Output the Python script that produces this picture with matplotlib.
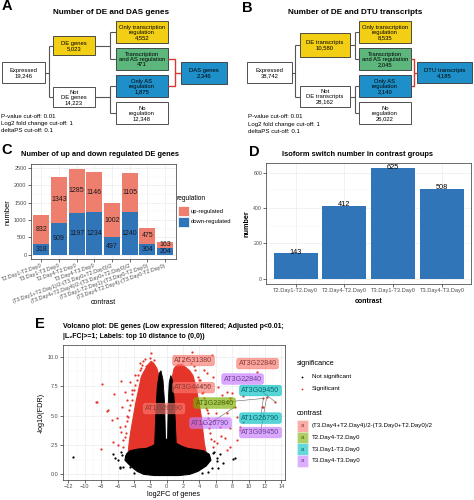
import numpy as np
import matplotlib
matplotlib.use("Agg")
import matplotlib.pyplot as plt
from matplotlib.patches import Rectangle
from matplotlib.ticker import MultipleLocator

plt.rcParams["font.family"] = ["Liberation Sans", "DejaVu Sans"]

W, H = 474, 500

# ---------------- data ----------------
# Panel A / B decision trees
a_labels = ["Expressed", "DE genes", "Not\nDE genes", "Only transcription\nregulation",
            "Transcription\nand AS regulation", "Only AS\nregulation", "No\nregulation", "DAS genes"]
a_counts = [19246, 5023, 14223, 4552, 471, 1875, 12348, 2346]
b_labels = ["Expressed", "DE transcripts", "Not\nDE transcripts", "Only transcription\nregulation",
            "Transcription\nand AS regulation", "Only AS\nregulation", "No\nregulation", "DTU transcripts"]
b_counts = [38742, 10580, 28162, 8535, 2045, 2140, 26022, 4185]
cutoffs = ["P-value cut-off: 0.01", "Log2 fold change cut-off: 1", "deltaPS cut-off: 0.1"]

# Panel C
c_contrasts = ["T2.Day1-T2.Day0", "T3.Day1-T3.Day0", "T2.Day4-T2.Day0", "T3.Day4-T3.Day0",
               "(T3.Day1+T2.Day1)/2-(T3.Day0+T2.Day0)/2", "(T3.Day4+T2.Day4)/2-(T3.Day0+T2.Day0)/2",
               "(T3.Day1-T2.Day1)-(T3.Day0-T2.Day0)", "(T3.Day4-T2.Day4)-(T3.Day0-T2.Day0)"]
c_up = [832, 1343, 1285, 1146, 1002, 1105, 475, 163]
c_down = [318, 909, 1197, 1234, 497, 1240, 304, 204]

# Panel D
d_contrasts = ["T2.Day1-T2.Day0", "T2.Day4-T2.Day0", "T3.Day1-T3.Day0", "T3.Day4-T3.Day0"]
d_switch = [143, 412, 625, 508]

# Panel E: dense point clouds as outlines, sparse points listed
e_red_left_x = [-0.5, -0.55, -0.8, -1.2, -1.6, -1.9, -2.3, -2.8, -3.1, -3.4, -3.8, -4.1, -4.4, -4.6, -4.7]
e_red_left_y = [2.0, 5.0, 8.0, 9.0, 9.45, 9.6, 9.3, 8.7, 8.3, 7.3, 6.0, 4.8, 3.6, 2.6, 1.9]
e_red_right_x = [0.35, 0.4, 0.6, 0.9, 1.3, 1.8, 2.3, 2.8, 3.2, 3.6, 3.9, 4.2, 4.4, 4.6, 4.8]
e_red_right_y = [2.0, 5.0, 8.0, 9.0, 9.3, 9.35, 9.1, 8.8, 8.4, 7.4, 6.2, 5.0, 3.8, 2.6, 1.9]
e_black_spike_x = [-1.5, -1.35, -1.15, -0.9, -0.7, -0.45, -0.25, -0.15, 0.1, 0.18, 0.3, 0.5, 0.7, 0.9, 1.05, 1.2]
e_black_spike_y = [2.0, 5.0, 7.5, 8.6, 8.8, 8.0, 6.0, 3.0, 3.0, 6.0, 7.8, 8.4, 8.0, 6.5, 4.5, 2.0]
e_black_blob_x = [-5.0, -4.5, -3.5, -2.5, -1.8, -1.0, 0.0, 1.0, 1.8, 2.6, 3.6, 4.5, 5.2, 5.4, 4.8, 3.8,
                  2.8, 1.5, -1.5, -2.8, -3.6, -4.4, -5.1]
e_black_blob_y = [1.6, 2.0, 2.15, 2.2, 2.4, 2.7, 2.8, 2.7, 2.4, 2.2, 2.1, 2.0, 1.7, 1.2, 0.7, 0.25,
                  0.0, -0.1, -0.1, 0.0, 0.25, 0.7, 1.2]
e_red_pts_x = [-1.95, -3.27, -2.53, -7.87, -5.63, -4.48, -6.44, -8.64, -7.34, -6.66, -5.51, -5.1, -4.9,
               -5.72, -6.53, -8.07, -5.1, -6.12, -4.27, -3.87, -4.68, -5.29, -7.2, -8.54,
               -3.3, -3.6, -4.0, -4.3, -4.6, -4.9, -5.0, -5.3, -3.0, -2.6, -5.6, -6.0,
               -3.5, -3.9, -4.2, -4.5, -4.8, -5.1, -3.2, -2.9, -2.1, -1.5,
               3.05, 5.49, 10.99, 4.88, 5.69, 4.07, 6.3, 7.32, 7.94, 6.71, 7.73, 11.8, 13.23, 11.8,
               8.34, 4.88, 7.32, 8.55, 5.9, 9.37, 6.51, 7.73, 8.95, 5.29, 7.12, 6.1, 7.73, 8.55,
               7.32, 4.27, 4.47, 9.59, 12.2, 11.6, 9.35, 8.95,
               3.3, 3.8, 4.2, 4.5, 4.8, 5.1, 5.2, 5.4, 5.6, 2.5, 6.0, 6.6, 5.0, 4.6,
               3.5, 4.0, 4.4, 4.7, 5.0, 5.3, 3.0, 2.0, 1.4, 5.8]
e_red_pts_y = [10.33, 9.43, 9.2, 7.67, 7.95, 7.87, 6.82, 6.12, 5.4, 4.61, 5.74, 7.02, 6.31,
               4.04, 2.77, 2.12, 3.19, 4.76, 7.16, 8.44, 4.89, 2.35, 5.5, 6.17,
               8.9, 8.0, 7.2, 6.3, 5.5, 4.5, 3.5, 2.9, 9.3, 9.8, 3.6, 2.5,
               8.4, 7.6, 6.8, 5.9, 5.0, 4.1, 9.0, 9.6, 9.9, 9.7,
               10.42, 10.14, 8.72, 8.58, 8.3, 8.01, 7.44, 7.02, 6.88, 6.74, 6.45, 6.45, 6.17, 5.74,
               5.74, 5.46, 5.18, 4.89, 4.61, 4.47, 4.04, 3.91, 3.76, 3.48, 3.06, 2.63, 2.35, 2.91,
               2.06, 6.88, 4.33, 8.01, 6.54, 5.74, 6.65, 4.04,
               9.2, 8.3, 7.5, 6.5, 5.6, 4.8, 3.9, 3.0, 2.3, 9.9, 5.2, 3.3, 7.6, 8.9,
               8.9, 8.0, 7.0, 6.0, 5.2, 4.3, 9.5, 9.6, 9.6, 2.8]
e_black_pts_x = [-11.4, -5.72, -6.33, -5.51, -4.48, -4.9, -6.52, -5.7, -5.6, -5.9, -5.3, -4.0,
                 8.34, 6.92, 6.3, 5.69, 5.08, 8.13, 6.1, 5.8, 6.1, 5.5, 4.3, 6.5]
e_black_pts_y = [1.5, 0.54, 1.36, 1.64, 0.65, 1.78, 1.72, 0.65, 1.9, 1.2, 0.6, 0.1,
                 1.36, 0.93, 0.51, 1.78, 0.22, 1.27, 1.36, 1.9, 1.1, 0.5, 0.1, 1.7]

e_contrasts = ["(T3.Day4+T2.Day4)/2-(T3.Day0+T2.Day0)/2", "T2.Day4-T2.Day0",
               "T3.Day1-T3.Day0", "T3.Day4-T3.Day0"]
e_genes = ["AT2G31380", "AT3G22840", "AT3G22840", "AT3G44450", "AT3G09450",
           "AT3G22840", "AT1G26790", "AT1G26790", "AT1G26790", "AT3G09450"]
e_gene_contrast = [0, 0, 3, 0, 2, 1, 0, 2, 3, 3]
e_label_x = [3.27, 11.09, 9.26, 3.27, 11.45, 5.84, -0.33, 11.45, 5.35, 11.45]
e_label_y = [9.67, 9.41, 8.1, 7.37, 7.12, 6.06, 5.59, 4.78, 4.36, 3.55]
e_point_x = [np.nan, np.nan, np.nan, np.nan, 13.23, 11.8, np.nan, 11.8, 8.34, 12.2]
e_point_y = [np.nan, np.nan, np.nan, np.nan, 6.17, 6.45, np.nan, 6.45, 5.74, 6.54]

# ---------------- styles ----------------
col_yellow = "#F2CF15"
col_green = "#5DB67C"
col_blue = "#1E8FC8"
col_up = "#EE7E6E"
col_down = "#2F75B8"
col_red = "#E5352B"
e_fill = ["#F8766D", "#7CAE00", "#00BFC4", "#C77CFF"]
e_text = ["#8E3B35", "#4A6600", "#00696C", "#6E3E99"]


def px(x0, y0, x1, y1):
    return [x0 / W, 1 - y1 / H, (x1 - x0) / W, (y1 - y0) / H]


def bw(ax):
    for s in ax.spines.values():
        s.set_color("#333333")
        s.set_linewidth(0.5)
    ax.tick_params(which="major", length=2, width=0.5, color="#333333",
                   labelsize=4, labelcolor="#4D4D4D", pad=1)
    ax.tick_params(which="minor", length=0)
    ax.grid(True, which="major", color="#EBEBEB", lw=0.5)
    ax.grid(True, which="minor", color="#F4F4F4", lw=0.3)
    ax.set_axisbelow(True)


fig = plt.figure(figsize=(W / 100, H / 100), dpi=100)

# overlay for panels A/B, letters, titles and hand-built legends
ov = fig.add_axes([0, 0, 1, 1])
ov.set_xlim(0, W)
ov.set_ylim(H, 0)
ov.axis("off")
ov.set_zorder(10)

box_fc = ["white", col_yellow, "white", col_yellow, col_green, col_blue, "white", col_blue]
a_boxes = [(2, 62, 45, 83), (53, 36, 95, 55), (53, 87, 95, 107), (116, 21, 168, 43),
           (116, 48, 168, 70), (116, 75, 168, 97), (116, 102, 168, 124), (181, 62, 227, 84)]
b_boxes = [(247, 62, 292, 83), (300, 33, 350, 57), (300, 86, 350, 107), (359, 21, 411, 43),
           (359, 48, 411, 70), (359, 75, 411, 97), (359, 102, 411, 124), (417.5, 62, 472, 83)]


def draw_tree(boxes, labels, counts, xc1, xc2, xr):
    cy = [(b[1] + b[3]) / 2 for b in boxes]
    line = dict(color="#555555", lw=0.8, solid_capstyle="butt")
    ov.plot([boxes[0][2], xc1], [cy[0], cy[0]], **line)
    ov.plot([xc1, xc1], [cy[1], cy[2]], **line)
    for i in (1, 2):
        ov.plot([xc1, boxes[i][0]], [cy[i], cy[i]], **line)
    ov.plot([boxes[1][2], xc2], [cy[1], cy[1]], **line)
    ov.plot([xc2, xc2], [cy[3], cy[4]], **line)
    ov.plot([boxes[2][2], xc2], [cy[2], cy[2]], **line)
    ov.plot([xc2, xc2], [cy[5], cy[6]], **line)
    for i in (3, 4, 5, 6):
        ov.plot([xc2, boxes[i][0]], [cy[i], cy[i]], **line)
    red = dict(color="#D33A36", lw=1.0, solid_capstyle="butt")
    ov.plot([boxes[4][2], xr, xr, boxes[5][2]], [cy[4], cy[4], cy[5], cy[5]], **red)
    ov.plot([xr, boxes[7][0]], [cy[7], cy[7]], **red)
    for b, lab, n, fc in zip(boxes, labels, counts, box_fc):
        ov.add_patch(Rectangle((b[0], b[1]), b[2] - b[0], b[3] - b[1], fc=fc, ec="#333333", lw=0.6))
        ov.text((b[0] + b[2]) / 2, (b[1] + b[3]) / 2 + 0.3, f"{lab}\n{n:,}", ha="center",
                va="center", fontsize=4.2, linespacing=1.05)


draw_tree(a_boxes, a_labels, a_counts, 49, 110, 175)
draw_tree(b_boxes, b_labels, b_counts, 295.5, 355, 414.5)
for i, t in enumerate(cutoffs):
    ov.text(1.5, 116 + i * 7.2, t, fontsize=4.4, va="center")
    ov.text(248.5, 117 + i * 7.2, t, fontsize=4.4, va="center")

ov.text(111, 12.7, "Number of DE and DAS genes", fontsize=5.9, weight="bold", ha="center", va="center")
ov.text(355, 12.7, "Number of DE and DTU transcripts", fontsize=5.9, weight="bold", ha="center", va="center")
for lt, (x, y) in zip("ABCDE", [(7, 6.5), (247, 8), (7, 150.5), (254, 152), (40, 324.5)]):
    ov.text(x, y, lt, fontsize=10.5, weight="bold", ha="center", va="center")

# ---------------- panel C ----------------
ax_c = fig.add_axes(px(30.7, 164.3, 175.7, 259))
xc = np.arange(1, len(c_contrasts) + 1)
ax_c.bar(xc, c_down, width=0.9, color=col_down)
ax_c.bar(xc, c_up, width=0.9, bottom=c_down, color=col_up)
for x, d, u in zip(xc, c_down, c_up):
    ax_c.text(x, d / 2, str(d), ha="center", va="center", fontsize=5.0, color="#1a1a2a")
    ax_c.text(x, d + u / 2, str(u), ha="center", va="center", fontsize=5.0, color="#1a1a1a")
ax_c.set_xlim(0.4, len(c_contrasts) + 0.6)
ax_c.set_ylim(-124, 2606)
ax_c.yaxis.set_major_locator(MultipleLocator(500))
ax_c.yaxis.set_minor_locator(MultipleLocator(250))
ax_c.set_xticks(xc)
ax_c.set_xticklabels(c_contrasts, rotation=20, ha="right", rotation_mode="anchor")
bw(ax_c)
ax_c.tick_params(axis="x", labelsize=3.9)
ax_c.set_ylabel("number", fontsize=5.5, labelpad=2)
ov.text(103, 303, "contrast", fontsize=5.0, ha="center", va="center")
ov.text(21.5, 155, "Number of up and down regulated DE genes", fontsize=5.4, weight="bold", va="center")
# legend C
ov.text(176.7, 198.3, "regulation", fontsize=4.8, va="center")
ov.add_patch(Rectangle((178.3, 205.5), 10.7, 10.7, fc=col_up, ec="white", lw=0.5))
ov.add_patch(Rectangle((178.3, 216.5), 10.7, 10.7, fc=col_down, ec="white", lw=0.5))
ov.text(191, 211, "up-regulated", fontsize=4.2, va="center")
ov.text(191, 222, "down-regulated", fontsize=4.2, va="center")

# ---------------- panel D ----------------
ax_d = fig.add_axes(px(266.3, 162.7, 471.3, 284.3))
xd = np.arange(1, len(d_contrasts) + 1)
ax_d.bar(xd, d_switch, width=0.9, color=col_down)
for x, v in zip(xd, d_switch):
    ax_d.text(x, v + 6, str(v), ha="center", va="center", fontsize=5.3)
ax_d.set_xlim(0.4, len(d_contrasts) + 0.6)
ax_d.set_ylim(-31.25, 656.25)
ax_d.yaxis.set_major_locator(MultipleLocator(200))
ax_d.yaxis.set_minor_locator(MultipleLocator(100))
ax_d.set_xticks(xd)
ax_d.set_xticklabels(d_contrasts)
bw(ax_d)
ax_d.tick_params(axis="x", labelsize=4.1)
ax_d.tick_params(axis="y", labelsize=3.8)
ax_d.set_ylabel("number", fontsize=5.2, weight="bold", labelpad=2)
ax_d.set_xlabel("contrast", fontsize=5.0, weight="bold", labelpad=3)
ov.text(357.5, 155, "Isoform switch number in contrast groups", fontsize=5.4, weight="bold",
        ha="center", va="center")

# ---------------- panel E ----------------
ax_e = fig.add_axes(px(62.7, 345, 285, 480))
ax_e.fill(e_red_left_x, e_red_left_y, color=col_red, lw=0.8, zorder=2)
ax_e.fill(e_red_right_x, e_red_right_y, color=col_red, lw=0.8, zorder=2)
ax_e.scatter(e_red_pts_x, e_red_pts_y, s=2.6, color=col_red, lw=0, zorder=2)
ax_e.fill(e_black_spike_x, e_black_spike_y, color="black", lw=0.6, zorder=3)
ax_e.fill(e_black_blob_x, e_black_blob_y, color="black", lw=0.8, zorder=3)
ax_e.scatter(e_black_pts_x, e_black_pts_y, s=2.6, color="black", lw=0, zorder=3)
for g, k, lx, ly, tx, ty in zip(e_genes, e_gene_contrast, e_label_x, e_label_y, e_point_x, e_point_y):
    if not np.isnan(tx):
        ax_e.plot([lx, tx], [ly, ty], color="#666666", lw=0.4, zorder=4)
    ax_e.text(lx, ly, g, ha="center", va="center", fontsize=5.1, color=e_text[k], zorder=5,
              bbox=dict(boxstyle="round,pad=0.25,rounding_size=0.3", fc=e_fill[k], ec=e_fill[k],
                        alpha=0.65, lw=0.5))
ax_e.set_xlim(-12.7, 14.44)
ax_e.set_ylim(-0.48, 10.99)
ax_e.xaxis.set_major_locator(MultipleLocator(2))
ax_e.xaxis.set_minor_locator(MultipleLocator(1))
ax_e.yaxis.set_major_locator(MultipleLocator(2.5))
ax_e.yaxis.set_minor_locator(MultipleLocator(1.25))
ax_e.yaxis.set_major_formatter(matplotlib.ticker.FormatStrFormatter("%.1f"))
bw(ax_e)
ax_e.set_xlabel("log2FC of genes", fontsize=5.2, labelpad=1.5)
ax_e.set_ylabel("-log10(FDR)", fontsize=5.2, labelpad=2)
ov.text(63, 327, "Volcano plot: DE genes (Low expression filtered; Adjusted p<0.01;",
        fontsize=5.0, weight="bold", va="center")
ov.text(63, 336.5, "|L\u2082FC|>=1; Labels: top 10 distance to (0,0))",
        fontsize=5.0, weight="bold", va="center")
# legend E
ov.text(296.7, 363.3, "significance", fontsize=5.2, va="center")
ov.plot([302.5], [376.7], "o", ms=1.3, color="black", mec="none")
ov.plot([302.5], [388.7], "o", ms=1.3, color=col_red, mec="none")
ov.text(311.7, 376.7, "Not significant", fontsize=4.5, va="center")
ov.text(311.7, 388.7, "Significant", fontsize=4.5, va="center")
ov.text(296.7, 413.3, "contrast", fontsize=5.2, va="center")
for i, name in enumerate(e_contrasts):
    y0 = 420 + i * 11.67
    ov.add_patch(Rectangle((296.7, y0), 11.6, 11.67, fc=e_fill[i], ec="white", lw=0.4, alpha=0.6))
    ov.text(302.5, y0 + 5.8, "a", fontsize=4.4, color=e_text[i], ha="center", va="center")
    ov.text(311.7, y0 + 5.8, name, fontsize=4.4, va="center")

fig.savefig("out.png", dpi=100)
